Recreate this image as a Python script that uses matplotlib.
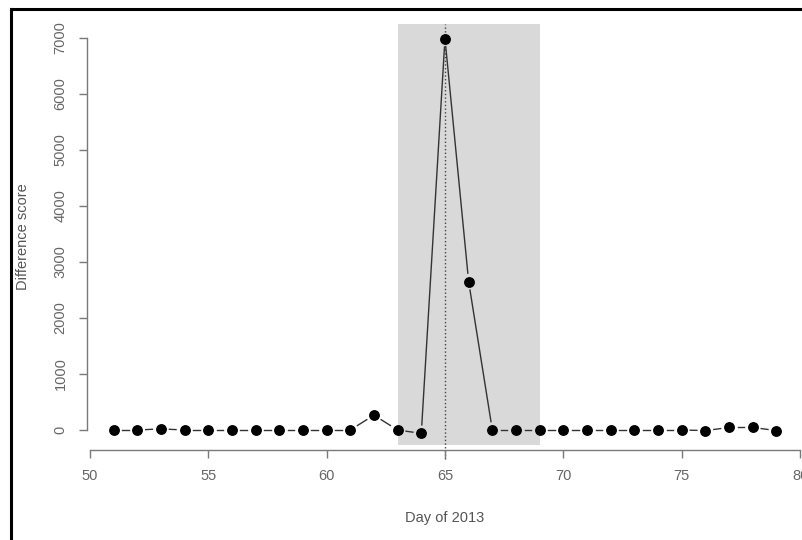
import numpy as np
import matplotlib
matplotlib.use('Agg')
import matplotlib.pyplot as plt
from matplotlib.lines import Line2D

plt.rcParams['font.family'] = ['Liberation Sans', 'DejaVu Sans']

# day of year and difference score
days = list(range(51, 80))
scores = [0, 0, 20, 0, 0, 0, 0, 0, 0, 0,
          0, 265, 0, -60, 6990, 2650, 0, 0, 0, 0,
          0, 0, 0, 0, 0, -10, 45, 45, -10]
event_start, event_end = 63, 69
event_day = 65
xticks = [50, 55, 60, 65, 70, 75, 80]
yticks = [0, 1000, 2000, 3000, 4000, 5000, 6000, 7000]

W, H = 802, 540
fig = plt.figure(figsize=(W / 100, H / 100), dpi=100)
ax = fig.add_axes([87 / W, (H - 450) / H, (802 - 87) / W, (450 - 24) / H])
ax.set_xlim(49.88, 80.08)
ax.set_ylim(-357, 7250)

grey = '#7a7a7a'
ax.axvspan(event_start, event_end, ymin=0.012, ymax=1.0, color='#d9d9d9', lw=0, zorder=0)
ax.axvline(event_day, ymin=-0.02, ymax=1.0, color='#444444', ls=':', lw=1, zorder=1,
           clip_on=False)

# lines with gaps round the points (like R type="b")
fig.canvas.draw()
pts = ax.transData.transform(np.column_stack([days, scores]))
gap = 8.5
inv = ax.transData.inverted()
for (x0, y0), (x1, y1) in zip(pts[:-1], pts[1:]):
    d = np.hypot(x1 - x0, y1 - y0)
    if d <= 2 * gap:
        continue
    ux, uy = (x1 - x0) / d, (y1 - y0) / d
    seg = inv.transform([[x0 + ux * gap, y0 + uy * gap], [x1 - ux * gap, y1 - uy * gap]])
    ax.plot(seg[:, 0], seg[:, 1], color='#333333', lw=1, zorder=2)

ax.plot(days, scores, 'o', color='black', ms=6.8, zorder=3)

for s in ['top', 'right']:
    ax.spines[s].set_visible(False)
ax.spines['left'].set_bounds(0, 7000)
ax.spines['bottom'].set_bounds(50, 80)
for s in ['left', 'bottom']:
    ax.spines[s].set_color(grey)
    ax.spines[s].set_linewidth(1)

ax.set_xticks(xticks)
ax.set_yticks(yticks)
ax.set_yticklabels([str(v) for v in yticks], rotation=90, va='center')
ax.tick_params(axis='both', colors=grey, labelcolor='#666666', labelsize=10.5,
               length=6, width=1, pad=8)

ax.set_xlabel('Day of 2013', fontsize=10.5, color='#555555', labelpad=20)
ax.set_ylabel('Difference score', fontsize=10.5, color='#555555', labelpad=17)

# black frame on the left and top of the screenshot
fig.add_artist(Line2D([11 / W, 11 / W], [0, (H - 9) / H], color='black', lw=2.2))
fig.add_artist(Line2D([11 / W, 1], [(H - 9) / H, (H - 9) / H], color='black', lw=2.2))

fig.savefig('out.png', dpi=100)
